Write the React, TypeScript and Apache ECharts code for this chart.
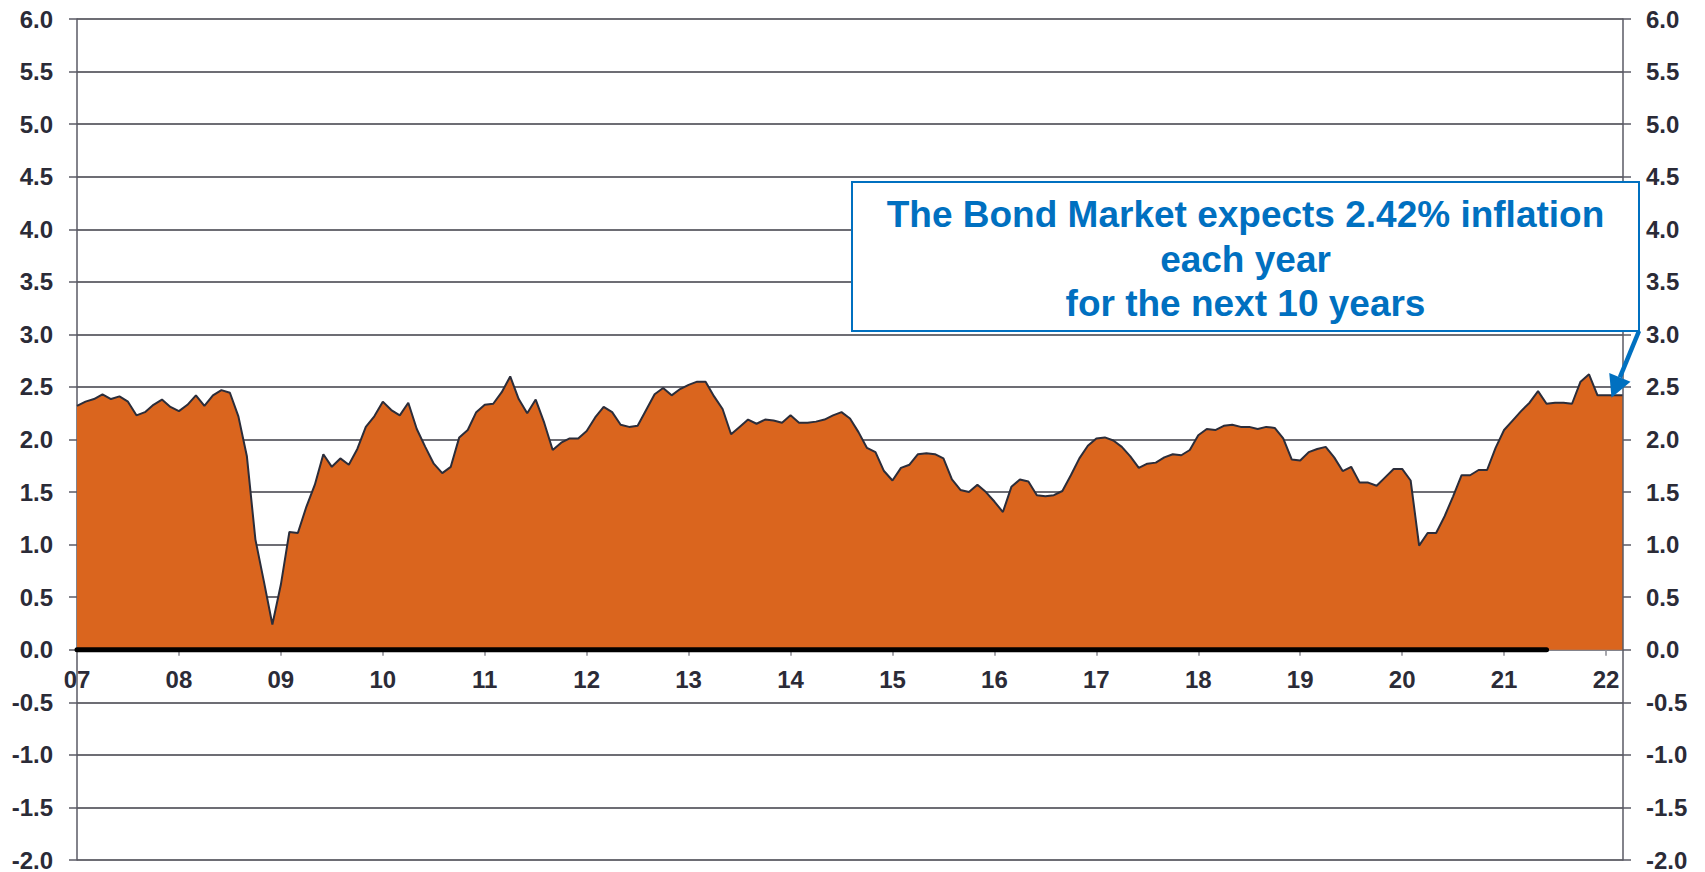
import React, { useEffect, useRef } from "react";
import * as echarts from "echarts";

// ---- data ----
const startYear = 2007;
const monthCount = 183; // Jan 2007 .. Mar 2022
const months: string[] = Array.from({ length: monthCount }, (_, i) => {
  const y = startYear + Math.floor(i / 12);
  const m = (i % 12) + 1;
  return `${y}-${String(m).padStart(2, "0")}`;
});

// 10-year breakeven inflation (%), monthly
const breakeven: number[] = [
  // 2007
  2.32, 2.36, 2.385, 2.43, 2.385, 2.41, 2.36, 2.23, 2.26, 2.33, 2.38, 2.31,
  // 2008
  2.27, 2.33, 2.42, 2.32, 2.42, 2.47, 2.445, 2.22, 1.84, 1.05, 0.65, 0.24,
  // 2009
  0.62, 1.12, 1.11, 1.36, 1.57, 1.86, 1.74, 1.82, 1.76, 1.91, 2.12, 2.22,
  // 2010
  2.36, 2.28, 2.23, 2.35, 2.1, 1.93, 1.77, 1.68, 1.74, 2.02, 2.09, 2.26,
  // 2011
  2.33, 2.34, 2.45, 2.6, 2.385, 2.25, 2.38, 2.16, 1.9, 1.97, 2.01, 2.01,
  // 2012
  2.08, 2.21, 2.31, 2.26, 2.14, 2.12, 2.13, 2.28, 2.43, 2.49, 2.42, 2.48,
  // 2013
  2.52, 2.55, 2.55, 2.41, 2.29, 2.05, 2.12, 2.19, 2.15, 2.19, 2.18, 2.16,
  // 2014
  2.23, 2.16, 2.16, 2.17, 2.19, 2.23, 2.26, 2.2, 2.07, 1.92, 1.88, 1.7,
  // 2015
  1.61, 1.73, 1.76, 1.86, 1.87, 1.86, 1.82, 1.62, 1.52, 1.5, 1.57, 1.5,
  // 2016
  1.41, 1.31, 1.55, 1.62, 1.6, 1.47, 1.46, 1.47, 1.51, 1.66, 1.82, 1.94,
  // 2017
  2.01, 2.02, 1.99, 1.93, 1.84, 1.73, 1.77, 1.78, 1.83, 1.86, 1.85, 1.9,
  // 2018
  2.04, 2.1, 2.09, 2.13, 2.14, 2.12, 2.12, 2.1, 2.12, 2.11, 2.01, 1.81,
  // 2019
  1.8, 1.88, 1.91, 1.93, 1.83, 1.7, 1.74, 1.59, 1.59, 1.56, 1.64, 1.72,
  // 2020
  1.72, 1.61, 0.99, 1.11, 1.11, 1.27, 1.46, 1.66, 1.66, 1.71, 1.71, 1.92,
  // 2021
  2.09, 2.18, 2.27, 2.35, 2.46, 2.34, 2.35, 2.35, 2.34, 2.55, 2.62, 2.42,
  // 2022
  2.42, 2.42, 2.42,
];

// thick zero reference bar runs from the first month to this month
const zeroBarEnd = "2021-06";
const zeroBar: number[] = months.slice(0, months.indexOf(zeroBarEnd) + 1).map(() => 0);

const yMin = -2;
const yMax = 6;
const yStep = 0.5;

const annotationLines = [
  "The Bond Market expects 2.42% inflation",
  "each year",
  "for the next 10 years",
];
const annotationTarget = "2022-02";

const FONT = "'Liberation Sans', Arial, Helvetica, sans-serif";
const LABEL_COLOR = "#2b2b37";
const BLUE = "#0070C0";

const GRID = { left: 77, right: 82, top: 19, bottom: 12 };
const CHART_H = 872;

export default function App() {
  const ref = useRef<HTMLDivElement>(null);

  useEffect(() => {
    if (!ref.current) return;
    const chart = echarts.init(ref.current, undefined, { renderer: "svg" });

    const yearTick = (idx: number) => idx % 12 === 0;

    // place the category axis on the zero line of the value axis
    const gridH = CHART_H - GRID.top - GRID.bottom;
    const zeroOffset = -((0 - yMin) / (yMax - yMin)) * gridH;

    const yAxisBase = {
      type: "value" as const,
      min: yMin,
      max: yMax,
      interval: yStep,
      axisLabel: {
        fontSize: 24,
        fontWeight: "bold" as const,
        fontFamily: FONT,
        color: LABEL_COLOR,
        formatter: (v: number) => v.toFixed(1),
      },
      axisLine: { show: true, lineStyle: { color: "#5a5a64", width: 1.5 } },
      axisTick: { show: true, length: 8, lineStyle: { color: "#5a5a64", width: 1.5 } },
    };

    chart.setOption({
      animation: false,
      backgroundColor: "#ffffff",
      grid: {
        ...GRID,
        containLabel: false,
        outerBoundsMode: "none",
      },
      xAxis: {
        type: "category",
        data: months,
        boundaryGap: false,
        position: "bottom",
        offset: zeroOffset,
        axisLine: {
          show: true,
          onZero: false,
          lineStyle: { color: "#8a8a92", width: 1.5 },
        },
        axisTick: { show: true, interval: (i: number) => yearTick(i), length: 6, lineStyle: { color: "#8a8a92", width: 1.5 } },
        axisLabel: {
          interval: (i: number) => yearTick(i),
          formatter: (v: string) => v.slice(2, 4),
          fontSize: 24,
          fontWeight: "bold",
          fontFamily: FONT,
          color: LABEL_COLOR,
          margin: 18,
          hideOverlap: false,
        },
        splitLine: { show: false },
      },
      yAxis: [
        {
          ...yAxisBase,
          position: "left",
          axisLabel: { ...yAxisBase.axisLabel, margin: 24 },
          splitLine: { show: true, lineStyle: { color: "#3c3c46", width: 1.5 } },
        },
        {
          ...yAxisBase,
          position: "right",
          z: 5,
          axisLabel: { ...yAxisBase.axisLabel, margin: 23 },
          splitLine: { show: false },
        },
      ],
      series: [
        {
          type: "line",
          name: "10-Year Breakeven",
          data: breakeven,
          symbol: "none",
          lineStyle: { color: "#2b2d3a", width: 2 },
          areaStyle: { color: "#DA651E", opacity: 1 },
          z: 2,
        },
        {
          type: "line",
          name: "zero",
          data: zeroBar,
          symbol: "none",
          lineStyle: { color: "#000000", width: 5, cap: "round" },
          z: 3,
        },
      ],
    });

    // annotation box + arrow, arrow tip anchored at the data point
    const boxX = 852;
    const boxY = 182;
    const boxW = 787;
    const boxH = 149;
    const ti = months.indexOf(annotationTarget);
    const pt = chart.convertToPixel({ xAxisIndex: 0, yAxisIndex: 0 }, [ti, breakeven[ti]]) as number[];
    const tip = [pt[0] - 3, pt[1] + 2.4];
    const start = [boxX + boxW, boxY + boxH];
    const dx = tip[0] - start[0];
    const dy = tip[1] - start[1];
    const len = Math.hypot(dx, dy);
    const ux = dx / len;
    const uy = dy / len;
    const headLen = 22;
    const headHalf = 11.5;
    const base = [tip[0] - ux * headLen, tip[1] - uy * headLen];
    const px = -uy;
    const py = ux;

    chart.setOption({
      graphic: [
        {
          type: "rect",
          z: 100,
          shape: { x: boxX, y: boxY, width: boxW, height: boxH },
          style: { fill: "#ffffff", stroke: BLUE, lineWidth: 2 },
        },
        {
          type: "text",
          z: 101,
          x: boxX + boxW / 2,
          y: 259.4,
          style: {
            text: annotationLines.join("\n"),
            fill: BLUE,
            font: `bold 37px ${FONT}`,
            fontSize: 37,
            fontWeight: "bold",
            fontFamily: FONT,
            lineHeight: 44.5,
            align: "center",
            verticalAlign: "middle",
          },
        },
        {
          type: "line",
          z: 102,
          shape: { x1: start[0], y1: start[1], x2: base[0], y2: base[1] },
          style: { stroke: BLUE, lineWidth: 4.5 },
        },
        {
          type: "polygon",
          z: 102,
          shape: {
            points: [
              [tip[0], tip[1]],
              [base[0] + px * headHalf, base[1] + py * headHalf],
              [base[0] - px * headHalf, base[1] - py * headHalf],
            ],
          },
          style: { fill: BLUE },
        },
      ],
    });

    return () => chart.dispose();
  }, []);

  return (
    <div
      ref={ref}
      style={{ position: "fixed", left: 0, top: 0, width: 1705, height: 872, background: "#fff" }}
    />
  );
}
